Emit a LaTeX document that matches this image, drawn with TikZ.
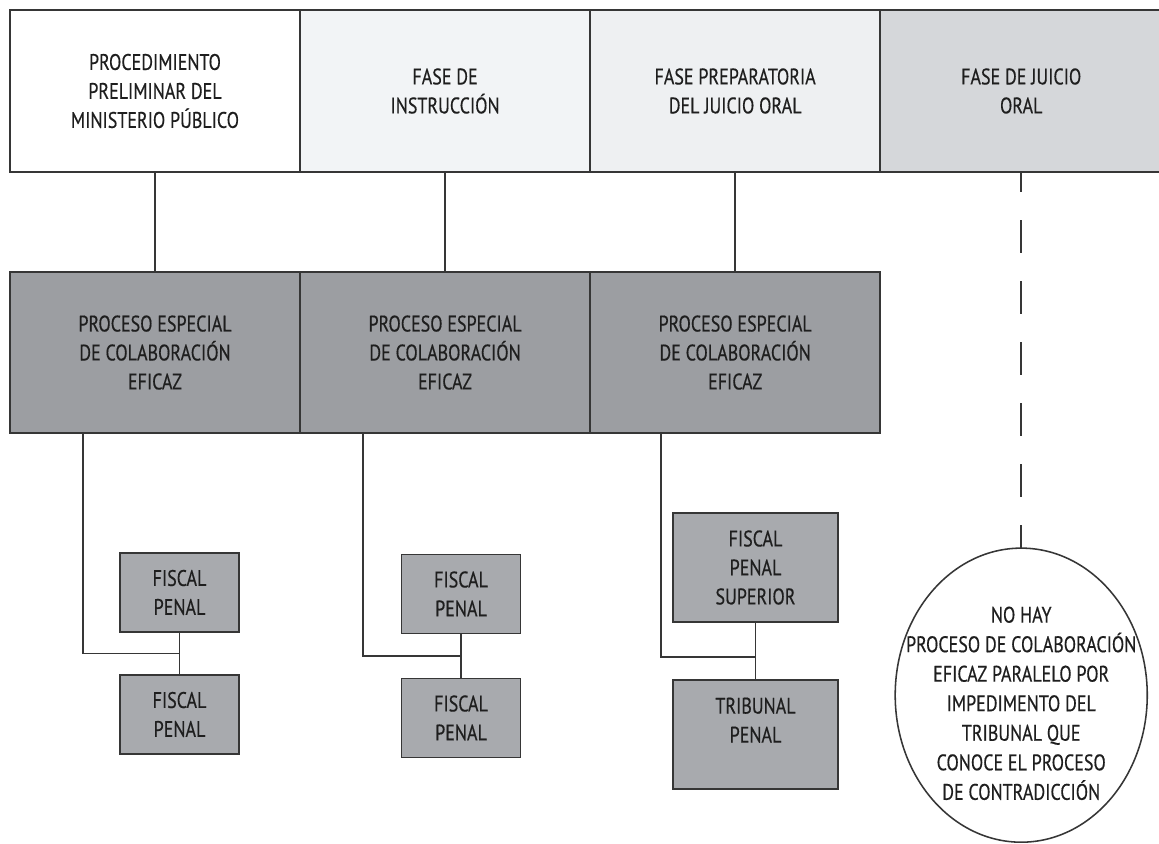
\documentclass[tikz,border=0pt]{standalone}
\usepackage{fontspec}
\setmainfont[FakeStretch=0.8,FakeBold=0.4]{PT Sans}
\usepackage{tikz}
\usetikzlibrary{positioning,calc,shapes.geometric}
\usepackage{xcolor}

\definecolor{linegray}{HTML}{363636}
\definecolor{textgray}{HTML}{1E1E1E}
\definecolor{phaselight}{HTML}{F2F4F6}
\definecolor{phasepale}{HTML}{EEF0F2}
\definecolor{phasegray}{HTML}{D5D7DA}
\definecolor{procgray}{HTML}{9C9EA2}
\definecolor{organgray}{HTML}{A8AAAE}

\begin{document}
\begin{tikzpicture}[x=0.025cm,y=-0.025cm,
	phase/.style={draw=linegray,line width=1.3pt,rectangle,fill=white,minimum width=7.25cm,minimum height=4.05cm,
		inner sep=0pt,outer sep=0pt,align=center,text=textgray,font=\fontsize{16pt}{20.6pt}\selectfont},
	proc/.style={phase,fill=procgray,minimum height=4.025cm},
	organ/.style={draw=linegray,line width=1.3pt,rectangle,fill=organgray,minimum width=2.975cm,minimum height=1.975cm,
		inner sep=0pt,outer sep=0pt,align=center,text=textgray,font=\fontsize{16pt}{20.6pt}\selectfont},
	organbig/.style={organ,minimum width=4.125cm,minimum height=2.725cm},
	note/.style={draw=linegray,line width=1.1pt,ellipse,fill=white,minimum width=6.3cm,minimum height=7.35cm,
		inner sep=-0.8cm,outer sep=0pt,align=center,text=textgray,font=\fontsize{16pt}{21pt}\selectfont},
	link/.style={draw=linegray,line width=1.2pt},
	nolink/.style={link,dash pattern=on 0.825cm off 0.7cm,dash phase=0.325cm}]
		\fill[white] (0,0) rectangle (1159,843);
		\useasboundingbox (0,0) rectangle (1159,843);
		
		% phases of the process
		\node[phase] (top1) at (155,91) {PROCEDIMIENTO\\PRELIMINAR DEL\\MINISTERIO PÚBLICO};
		\node[phase,fill=phaselight] (top2) [right=0pt of top1] {FASE DE\\INSTRUCCIÓN};
		\node[phase,fill=phasepale] (top3) [right=0pt of top2] {FASE PREPARATORIA\\DEL JUICIO ORAL};
		\node[phase,fill=phasegray,minimum width=7.05cm] (top4) [right=0pt of top3] {FASE DE JUICIO\\ORAL};
		
		% special process
		\node[proc] (mid1) [below=2.5cm of top1] {PROCESO ESPECIAL\\DE COLABORACIÓN\\EFICAZ};
		\node[proc] (mid2) [right=0pt of mid1] {PROCESO ESPECIAL\\DE COLABORACIÓN\\EFICAZ};
		\node[proc] (mid3) [right=0pt of mid2] {PROCESO ESPECIAL\\DE COLABORACIÓN\\EFICAZ};
		
		% organs
		\node[organ] (fp1a) at (179.5,592.5) {FISCAL\\PENAL};
		\node[organ] (fp1b) [below=1.075cm of fp1a] {FISCAL\\PENAL};
		\node[organ] (fp2a) at (461,594) {FISCAL\\PENAL};
		\node[organ] (fp2b) [below=1.125cm of fp2a] {FISCAL\\PENAL};
		\node[organbig] (fsup) at (755.5,567.5) {FISCAL\\PENAL\\SUPERIOR};
		\node[organbig] (trib) [below=1.45cm of fsup] {TRIBUNAL\\PENAL\\\mbox{}};
		
		\node[note] (note) [below=9.4cm of top4] {\rule{0pt}{23pt}NO HAY\\PROCESO DE COLABORACIÓN\\EFICAZ PARALELO POR\\IMPEDIMENTO DEL\\TRIBUNAL QUE\\CONOCE EL PROCESO\\DE CONTRADICCIÓN};
		
		\coordinate (j1) at ($(fp1a.south)!0.5!(fp1b.north)$);
		\coordinate (j2) at ($(fp2a.south)!0.5!(fp2b.north)$);
		\coordinate (j3) at ($(fsup.south)!0.6!(trib.north)$);
		
		\path (top1) edge[link] (mid1);
		\path (top2) edge[link] (mid2);
		\path (top3) edge[link] (mid3);
		\path (top4) edge[nolink] (note);
		
		\path (fp1a) edge[link] (fp1b);
		\path (fp2a) edge[link] (fp2b);
		\path (fsup) edge[link] (trib);
		
		\draw[link] ([xshift=1.825cm]mid1.south west) |- (j1);
		\draw[link] ([xshift=1.575cm]mid2.south west) |- (j2);
		\draw[link] ([xshift=1.775cm]mid3.south west) |- (j3);
\end{tikzpicture}
\end{document}
